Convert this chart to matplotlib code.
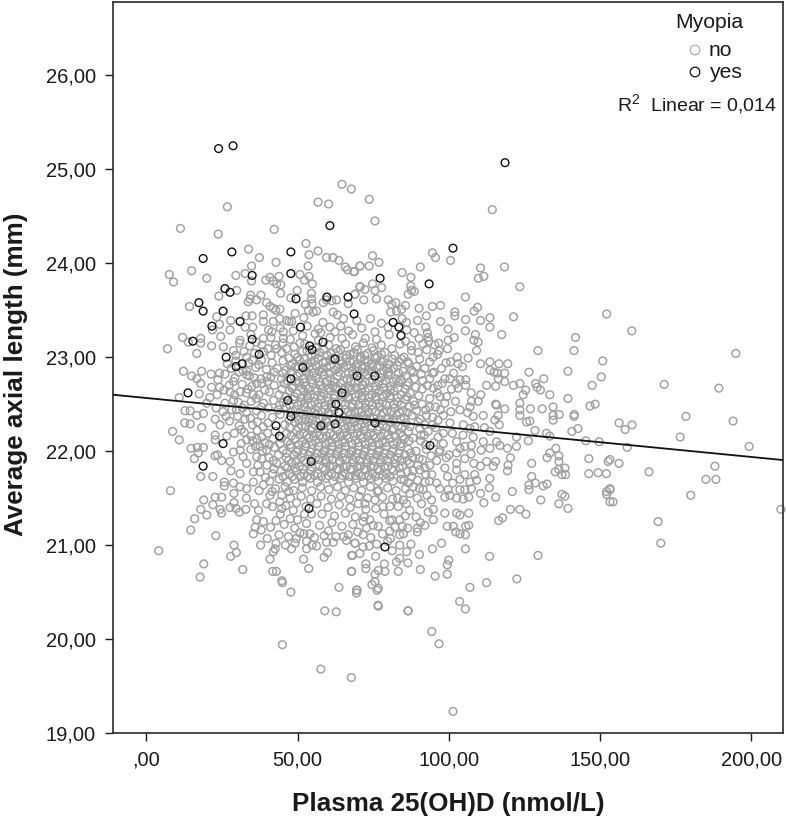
import matplotlib
matplotlib.use("Agg")
import matplotlib.pyplot as plt

plt.rcParams['font.family'] = ['Liberation Sans', 'DejaVu Sans']
plt.rcParams['mathtext.fontset'] = 'custom'
plt.rcParams['mathtext.rm'] = 'Liberation Sans'

x_ticks = [0, 50, 100, 150, 200]
x_tick_labels = [",00", "50,00", "100,00", "150,00", "200,00"]
y_ticks = [19, 20, 21, 22, 23, 24, 25, 26]
y_tick_labels = ["19,00", "20,00", "21,00", "22,00", "23,00", "24,00", "25,00", "26,00"]
line_x = [-11, 210.5]
line_y = [22.60, 21.905]

yes_points = [(23.9,25.22),(28.7,25.25),(118.6,25.07),(60.7,24.40),(101.4,24.16),(18.8,24.05),(28.3,24.12),(47.8,24.12),(47.8,23.89),(35,23.87),(93.5,23.78),(77.3,23.84),(26,23.73),(27.7,23.69),(17.4,23.58),(18.8,23.49),(25.4,23.49),(49.5,23.62),(59.7,23.64),(66.7,23.64),(68.7,23.46),(31,23.38),(21.7,23.33),(51,23.32),(81.6,23.37),(83.5,23.32),(84.2,23.23),(15.4,23.17),(35,23.19),(54,23.12),(54.8,23.08),(58.4,23.16),(26.4,23.00),(37.3,23.03),(62.4,22.98),(29.7,22.90),(31.7,22.93),(51.8,22.89),(47.8,22.77),(69.7,22.80),(75.6,22.80),(13.8,22.62),(64.7,22.62),(46.8,22.54),(62.7,22.50),(63.7,22.41),(47.8,22.37),(75.6,22.30),(57.7,22.27),(62.4,22.29),(42.9,22.27),(44,22.16),(93.8,22.06),(25.4,22.08),(54.5,21.89),(18.8,21.84),(53.8,21.39),(78.9,20.98)]

no_upper_left = [(64.7,24.84),(67.8,24.79),(56.8,24.65),(60.3,24.63),(26.8,24.60),(11.3,24.37),(23.8,24.31),(42.3,24.36),(33.8,24.15),(37.4,24.06),(42.9,24.01),(52.8,24.21),(53.8,24.09),(56.8,24.13),(59.6,24.06),(61.7,24.06),(63.7,24.03),(65.8,23.96),(66.5,23.93),(68.8,23.91),(70.7,23.97),(53.5,23.97),(7.6,23.88),(9,23.80),(15,23.92),(20,23.84),(29.6,23.87),(32.7,23.89),(34.8,23.97),(34.8,23.81),(39.5,23.82),(40.9,23.85),(41.9,23.81),(43.1,23.78),(43.9,23.86),(44.5,23.77),(44.4,23.68),(50.8,23.88),(53.8,23.86),(52.3,23.82),(54.9,23.78),(49.9,23.71),(54.6,23.68),(54.6,23.62),(29.9,23.71),(24,23.65),(34.5,23.66),(37.9,23.66),(36.5,23.61),(33.7,23.59),(34.3,23.62),(14.3,23.54),(47.8,23.63),(39.8,23.58),(40.9,23.54),(42,23.52),(44.2,23.51),(42.8,23.5),(52.6,23.56),(54.8,23.57),(58.5,23.58),(59.6,23.61),(62.9,23.61),(61.3,23.6),(66.8,23.57),(69,23.67),(70.7,23.75),(55.2,23.48),(53.6,23.5),(56.3,23.49),(61.8,23.48),(63.2,23.45),(65.2,23.41),(23.3,23.43),(24.2,23.35),(27.9,23.39),(27.7,23.29),(35,23.44),(33,23.44),(38.7,23.45),(38.7,23.38),(32.7,23.32),(35.2,23.32),(42,23.38),(40.4,23.29),(41.5,23.27),(46.4,23.39),(48.1,23.38),(49.2,23.465),(45.3,23.27),(56.9,23.3),(55.8,23.25),(60.7,23.32),(62.4,23.27),(12,23.21),(13.9,23.16),(18,23.2),(18,23.15),(7,23.09),(16.7,23.04),(21.6,23.12),(21.9,23.29),(24.6,23.22),(25.5,23.11),(28.8,23.07),(31,23.18),(30.8,23.15),(32.3,23.06),(38.7,23.2),(38.2,23.13),(38.7,23.06),(43.1,23.09),(45.3,23.2),(45.1,23.15),(46.4,23.09),(50.8,23.15)]

no_lower_left = [(12.3,22.85),(15,22.8),(16.7,22.77),(18.3,22.85),(18,22.72),(21.4,22.82),(24.2,22.83),(26,22.82),(10.9,22.57),(17.5,22.61),(21,22.57),(20,22.51),(24.2,22.68),(25.7,22.65),(28.8,22.74),(27.7,22.63),(31,22.63),(33.2,22.81),(36.5,22.72),(35.4,22.6),(39.8,22.79),(39.2,22.65),(26,22.51),(12.8,22.43),(14.5,22.43),(16.7,22.38),(18.9,22.4),(25.3,22.42),(12.7,22.3),(14.5,22.29),(18.3,22.25),(22.8,22.34),(27.5,22.32),(24.4,22.28),(32.6,22.34),(8.7,22.21),(10.9,22.12),(29.1,22.19),(26.6,22.16),(22.8,22.17),(22.8,22.12),(14.8,22.03),(16.9,22.04),(18.9,22.04),(17.2,21.98),(15.9,21.92),(23.5,21.96),(22.7,21.95),(24.9,21.9),(28.8,21.99),(27.7,21.89),(31,22.01),(33.2,22.12),(36.5,22.13),(37.6,22.05),(32,21.94),(33.2,21.87),(36.5,21.94),(39.8,22.01),(42,21.9),(28,21.79),(31,21.76),(18,21.73),(22,21.73),(35.4,21.78),(37.6,21.78),(25.8,21.67),(25.8,21.63),(28.8,21.66),(31,21.62),(33.2,21.6),(35.4,21.67),(38.7,21.64),(29,21.55),(8,21.58),(19,21.48),(22.8,21.51),(24.9,21.51),(22,21.43),(18,21.38),(20,21.32),(24.4,21.38),(24.9,21.34),(27.7,21.4),(29,21.45),(30.8,21.35),(32.9,21.38),(29.7,21.39),(16,21.28),(14.7,21.16),(23,21.1),(36.5,21.27),(38.7,21.25),(42.9,21.26),(39.8,21.44),(40.9,21.53),(44.8,21.53),(44.8,21.39),(48.6,21.37),(50,21.27),(53,21.23),(36,21.19),(38,21.16),(35.4,21.12),(40,21.07),(43.9,21.11),(37.8,21.0),(47,21.09),(50.8,21.13),(52.1,21.12),(54.1,21.12),(42.9,21.02),(42.6,20.96),(46,21.0),(49.2,21.02),(53,21.04),(48,20.96),(53,20.96),(56.3,20.99),(58.8,21.1),(59.6,21.03),(62.7,21.09),(61.8,21.03),(66.8,21.11),(66.2,21.05),(69,21.02),(4.1,20.94),(29,21.0),(29.8,20.92),(27.9,20.88),(42,20.93),(40.9,20.85),(52,20.85),(59.9,20.92),(58.8,20.87),(67.9,20.89),(19,20.8),(31.9,20.74),(41.8,20.72),(53.7,20.75),(67.8,20.72),(17.8,20.66),(44.8,20.62),(45,20.6),(47.8,20.5),(43,20.72),(59,20.3),(62.8,20.29),(45,19.94),(57.7,19.68),(67.8,19.59),(69.7,20.52),(63.7,20.55),(76.6,20.36),(76.3,20.52),(74.6,20.58),(86.5,20.3),(94.4,20.08),(96.8,19.95),(101.4,19.23)]

no_lower_right = [(148.4,22.5),(141.4,22.37),(140.7,22.21),(145.3,22.11),(146.3,21.92),(152.7,21.89),(146.3,21.76),(149.4,21.77),(152.1,21.76),(153.3,21.59),(152.2,21.54),(153.3,21.46),(139.4,21.39),(136.4,21.44),(138.4,21.52),(137.4,21.54),(130.4,21.48),(132.5,21.65),(131.2,21.63),(128.6,21.66),(127.4,21.73),(126.5,21.64),(126.5,21.59),(127.4,21.87),(132.5,21.93),(133.4,21.98),(135.4,22.03),(136.4,21.95),(136.4,21.89),(135.2,21.78),(136.4,21.805),(138.4,21.82),(137.4,21.75),(138.6,21.75),(128.5,22.22),(132.3,22.19),(133.4,22.16),(126.3,22.11),(125.7,22.31),(126.8,22.32),(123.5,22.38),(123.5,22.51),(123.5,22.44),(127,22.45),(130.9,22.45),(134.5,22.47),(134.5,22.38),(134.5,22.33),(136.5,22.39),(122.4,22.15),(122.4,22.05),(120.4,21.93),(119.4,22.03),(119.6,21.85),(119.4,21.79),(115.5,21.89),(114.7,21.84),(112.5,21.89),(110.5,21.84),(108.3,21.87),(113.6,21.71),(113.4,21.61),(110.5,21.55),(111.6,21.45),(115.5,21.51),(121,21.57),(120.4,21.38),(123.5,21.38),(125.5,21.33),(117.8,21.29),(116.5,21.26),(106.6,21.34),(106.6,21.51),(104.8,21.49),(102.6,21.5),(103.7,21.59),(105.3,21.59),(107.5,21.6),(103.7,21.7),(105.3,21.75),(108.6,21.75),(109.2,21.69),(107,21.67),(102.6,21.34),(103.7,21.32),(106.6,21.21),(105.6,21.2),(105.5,21.11),(99.5,21.2),(101.5,21.2),(102.3,21.14),(103.7,21.12),(97.6,21.02),(94.6,20.96),(105.5,20.96),(113.5,20.88),(129.5,20.89),(122.5,20.64),(112.5,20.6),(107,20.55),(100,20.84),(99.5,20.79),(99.5,20.69),(95.5,20.67),(90.6,20.74),(86.5,20.81),(83.3,20.72),(82.7,20.82),(83.8,20.86),(87.5,21.01),(78.9,20.72),(78.7,20.8),(76.7,20.73),(75.6,20.69),(75.6,20.61),(76.7,20.54),(69.5,20.52),(69.5,20.49),(76.7,20.35),(86.6,20.3),(103.6,20.4),(105.5,20.32),(72.6,20.8),(72.6,20.75),(67.9,20.72),(68.2,20.89),(70.6,20.91),(71.7,21.11),(69,21.02),(71.7,20.98),(73.7,20.99),(75.8,20.88),(79.8,21.04),(83.8,21.0),(80.5,21.15),(80.5,21.26),(83.8,21.11),(85,21.12),(84.7,21.2),(83.8,21.27),(89.6,21.18),(89.6,21.14),(90.6,21.24),(94.9,21.27),(93.2,21.35),(94.9,21.38),(98.7,21.34),(98.7,21.51),(100.4,21.53),(94.3,21.48),(89.6,21.5),(91,21.44),(87.1,21.37),(86,21.44),(85,21.48),(83.3,21.41),(80.5,21.41),(78.3,21.41),(75.6,21.48),(72.6,21.38),(71.7,21.25),(73.9,21.27),(75,21.21),(76.7,21.2),(98.2,22.08),(102.6,22.1),(103.7,22.03),(105.3,22.05),(107.5,22.06),(111.4,22.1),(113.6,22.03),(115.8,22.1),(116.9,22.06),(102.6,21.98),(105.3,21.92),(102.6,21.87),(102.6,21.8),(98.7,21.82),(96,21.9),(93.7,21.85),(90.4,21.8),(87.7,21.73),(88.2,21.62),(91.5,21.59),(96,21.66),(97,21.6),(99.8,21.59),(98.2,22.19),(96.5,22.15),(103.7,22.44),(107,22.47),(108.1,22.37),(111.4,22.38),(115.8,22.49),(118.5,22.45),(116.3,22.38),(115.2,22.33),(116.7,22.28),(113.6,22.21),(108.6,22.26),(107,22.24),(104.8,22.28),(100.4,22.3),(98.2,22.38),(96.5,22.33),(92.6,22.38),(93.2,22.21),(90.4,22.24),(88.2,22.14),(89.9,22.31),(87.1,22.47),(93.7,22.47),(98.7,22.51)]

no_upper_right = [(73.7,24.68),(75.6,24.45),(114.4,24.57),(74.8,24.08),(76.9,24.01),(73.7,23.97),(70.6,23.97),(68.6,23.91),(84.6,23.9),(90.6,23.96),(87.5,23.85),(94.6,24.11),(95.6,24.06),(100.6,24.03),(110.5,23.95),(118.4,23.96),(109.8,23.84),(111.6,23.86),(123.5,23.75),(105.5,23.64),(87.4,23.76),(87.7,23.71),(86.6,23.67),(88.6,23.7),(77.8,23.74),(70.6,23.75),(72.3,23.72),(74.8,23.78),(75.6,23.71),(71.9,23.61),(69,23.67),(76.1,23.62),(80,23.61),(82.5,23.58),(81.1,23.56),(85.7,23.55),(84.4,23.51),(82.7,23.49),(80.8,23.48),(90.2,23.52),(94.6,23.54),(97.3,23.55),(109.5,23.53),(108.4,23.49),(102,23.48),(102,23.44),(105.6,23.4),(110.5,23.39),(113.6,23.42),(113.6,23.32),(121.4,23.43),(152.2,23.46),(92.6,23.44),(89.7,23.39),(97.3,23.38),(92.4,23.32),(92.9,23.26),(99.8,23.3),(105.5,23.28),(108.8,23.24),(117.5,23.24),(86,23.37),(88.6,23.26),(101.8,23.21),(99.8,23.18),(96.7,23.15),(95.4,23.13),(108.3,23.18),(109.7,23.16),(109.2,23.07),(99.6,23.09),(91.5,23.14),(89.9,23.05),(87.7,23.07),(94.8,23.0),(93.7,22.95),(102.8,23.0),(106.4,22.99),(100.6,22.95),(103.1,22.93),(104.5,22.9),(97.6,22.88),(110.5,22.93),(113.6,22.95),(116.6,22.93),(119.5,22.93),(113.6,22.86),(115,22.84),(116.1,22.83),(118.5,22.83),(116.4,22.77),(118.5,22.74),(115.5,22.69),(112.5,22.7),(101.6,22.83),(98.7,22.77),(100.4,22.77),(103.7,22.76),(105.6,22.76),(105.6,22.7),(103.1,22.67),(93.7,22.77),(92.9,22.7),(94.9,22.67),(99.3,22.58),(102.2,22.53),(97.1,22.58),(93.7,22.56),(126.5,22.84),(129.5,23.07),(141.9,23.21),(141.4,23.07),(150.9,22.96),(139.4,22.85),(150.4,22.79),(131.4,22.77),(147.4,22.7),(121.4,22.7),(123.5,22.72),(128.7,22.72),(129.2,22.68),(130.3,22.65),(125.4,22.65),(124.6,22.6),(133.4,22.6),(139.4,22.56),(107.5,22.53),(109.7,22.53),(115.5,22.5),(160.5,23.28),(194.9,23.04),(189.3,22.67),(171.2,22.71),(178.4,22.37),(194,22.32),(199.3,22.05),(176.5,22.15),(160.6,22.28),(156.3,22.3),(158.3,22.23),(159,22.04),(156.3,21.87),(166.2,21.78),(153.3,21.91),(185,21.7),(188,21.84),(188.3,21.7),(180,21.53),(209.8,21.38),(169.2,21.25),(170.1,21.02),(153.3,21.6),(154.3,21.46),(152.2,21.57),(149.7,22.1),(146.7,22.48),(141.5,22.39),(142.7,22.24)]

no_centre = [
(47.2,23.38),(52.1,23.42),(58.4,23.37),(64.3,23.33),(69.6,23.39),(74.1,23.41),(77.8,23.36),(84.6,23.41),
(44.3,23.31),(48.6,23.28),(53.2,23.33),(57.7,23.26),(66.9,23.28),(71.2,23.31),(75.6,23.27),(79.9,23.32),(86.1,23.29),
(41.2,23.21),(47.6,23.19),(51.7,23.23),(56.9,23.18),(60.8,23.21),(64.7,23.2),(68.2,23.24),(72.4,23.2),(76.1,23.19),(80.3,23.24),(85.7,23.17),(90.2,23.2),(93.4,23.17),
(34.2,23.12),(42.7,23.13),(48.9,23.11),(52.4,23.14),(56.1,23.1),(60.3,23.13),(62.8,23.09),(65.9,23.14),(69.2,23.11),(71.8,23.15),(74.6,23.1),(77.7,23.13),(81.2,23.09),(83.9,23.14),(87.6,23.12),(92.7,23.08),
(35.8,23.04),(41.3,23.02),(44.8,23.05),(49.1,23.03),(51.6,23.06),(54.7,23.01),(57.3,23.05),(59.8,23.02),(63.4,23.06),(66.1,23.02),(68.7,23.05),(70.9,23.0),(73.2,23.04),(76.3,23.01),(78.9,23.05),(82.1,23.02),(85.2,23.0),(90.4,22.98),(96.3,23.03),
(29.6,22.96),(33.8,22.94),(38.1,22.97),(41.6,22.94),(45.2,22.96),(48.3,22.93),(50.7,22.97),(53.3,22.93),(55.6,22.96),(58.4,22.94),(60.9,22.97),(64.7,22.93),(67.3,22.96),(69.9,22.93),(72.1,22.97),(74.7,22.93),(77.4,22.96),(80.2,22.93),(83.6,22.95),(86.8,22.93),(89.3,22.9),(92.1,22.88),
(28.1,22.88),(31.9,22.86),(36.2,22.89),(39.7,22.87),(43.3,22.88),(46.1,22.86),(49.2,22.89),(52.6,22.85),(54.9,22.88),(57.1,22.85),(59.7,22.89),(62.3,22.86),(65.2,22.89),(68.1,22.85),(71.3,22.88),(73.4,22.86),(76.2,22.89),(78.6,22.85),(81.7,22.88),(84.9,22.85),(87.7,22.86),(90.9,22.82),(95.2,22.84),
(29.3,22.78),(34.1,22.8),(37.9,22.77),(41.2,22.79),(44.7,22.77),(49.8,22.8),(51.9,22.77),(53.8,22.81),(56.2,22.78),(58.6,22.81),(60.8,22.77),(63.3,22.8),(66.4,22.77),(68.4,22.82),(70.8,22.78),(72.9,22.81),(77.6,22.78),(79.9,22.81),(82.7,22.77),(85.8,22.8),(88.6,22.77),(91.4,22.75),
(31.7,22.71),(34.9,22.69),(38.2,22.72),(42.3,22.7),(45.6,22.72),(48.4,22.69),(50.6,22.73),(52.8,22.69),(55.1,22.72),(57.4,22.7),(59.3,22.73),(61.7,22.69),(64.2,22.72),(66.8,22.69),(69.1,22.73),(71.6,22.7),(73.8,22.73),(75.9,22.69),(78.3,22.72),(80.8,22.69),(83.4,22.73),(86.2,22.7),(89.1,22.68),(96.4,22.7),
(29.2,22.6),(33.1,22.62),(37.2,22.6),(40.7,22.63),(43.9,22.6),(47.2,22.64),(49.9,22.61),(52.1,22.64),(54.3,22.6),(56.6,22.64),(58.8,22.61),(60.9,22.64),(63.1,22.66),(65.9,22.61),(67.8,22.65),(70.3,22.61),(72.4,22.64),(74.6,22.6),(77.1,22.64),(79.4,22.61),(81.9,22.64),(84.3,22.6),(87.2,22.62),(90.1,22.59),
(30.4,22.52),(34.7,22.53),(38.8,22.51),(42.1,22.54),(45.3,22.52),(48.7,22.55),(51.2,22.52),(53.4,22.56),(55.7,22.52),(57.9,22.55),(60.2,22.53),(62.1,22.56),(64.6,22.52),(66.9,22.56),(69.2,22.53),(71.3,22.56),(73.6,22.52),(75.8,22.55),(78.2,22.52),(80.7,22.56),(83.1,22.52),(85.6,22.55),(88.4,22.53),(91.2,22.5),(95.6,22.47),
(28.3,22.44),(31.8,22.46),(36.4,22.43),(40.3,22.46),(43.6,22.44),(46.2,22.47),(49.3,22.44),(52.4,22.47),(54.6,22.43),(56.9,22.47),(59.1,22.44),(61.3,22.47),(65.8,22.44),(67.9,22.47),(70.2,22.43),(72.4,22.46),(74.7,22.44),(77.2,22.47),(79.6,22.43),(82.2,22.46),(84.8,22.43),(89.3,22.43),
(30.2,22.37),(34.4,22.35),(38.1,22.38),(41.7,22.36),(44.3,22.39),(49.6,22.36),(51.8,22.39),(53.9,22.35),(56.1,22.39),(58.3,22.36),(60.4,22.39),(65.2,22.36),(67.3,22.39),(69.4,22.35),(71.7,22.38),(73.9,22.35),(77.8,22.38),(80.1,22.35),(82.8,22.38),(85.3,22.35),(87.9,22.38),(94.7,22.36),
(30.7,22.27),(35.1,22.28),(38.6,22.26),(40.2,22.3),(45.8,22.28),(49.1,22.31),(51.4,22.27),(53.6,22.31),(55.8,22.28),(59.6,22.31),(60.9,22.27),(64.9,22.31),(66.7,22.27),(68.8,22.31),(71.1,22.28),(73.2,22.31),(78.3,22.28),(80.6,22.31),(83.3,22.27),(85.8,22.3),(92.1,22.28),(95.7,22.25),
(32.4,22.2),(36.7,22.22),(40.1,22.19),(42.6,22.21),(46.4,22.19),(49.7,22.22),(52.1,22.19),(54.3,22.22),(56.4,22.19),(58.7,22.22),(60.8,22.19),(63.2,22.22),(65.4,22.19),(67.6,22.23),(69.8,22.19),(71.9,22.22),(74.1,22.19),(76.4,22.22),(78.8,22.19),(81.2,22.22),(83.9,22.19),(86.7,22.21),(91.9,22.17),
(31.4,22.08),(35.2,22.11),(39.2,22.09),(41.9,22.13),(46.7,22.1),(49.3,22.13),(51.6,22.1),(53.7,22.14),(55.9,22.11),(58.2,22.14),(60.3,22.1),(62.6,22.14),(64.8,22.1),(66.9,22.14),(69.1,22.11),(71.4,22.14),(73.6,22.1),(75.9,22.14),(78.1,22.1),(80.4,22.13),(82.9,22.1),(85.3,22.13),(90.7,22.11),(95.1,22.09),
(38.4,22.0),(42.4,22.04),(45.2,22.01),(47.8,22.04),(50.2,22.01),(52.6,22.05),(54.8,22.02),(57.1,22.05),(59.2,22.01),(61.5,22.05),(63.7,22.02),(65.9,22.05),(68.2,22.01),(70.4,22.05),(72.6,22.02),(74.8,22.05),(77.1,22.01),(79.4,22.05),(81.7,22.02),(84.1,22.05),(86.6,22.02),(89.2,22.0),(92.6,22.02),(96.8,21.99),
(40.6,21.93),(43.7,21.96),(46.3,21.93),(48.9,21.96),(51.3,21.93),(53.6,21.96),(55.9,21.93),(58.1,21.97),(60.4,21.93),(62.7,21.97),(64.9,21.93),(67.1,21.97),(69.3,21.93),(71.6,21.96),(73.8,21.93),(76.1,21.96),(78.3,21.93),(80.6,21.96),(83.1,21.93),(85.4,21.96),(88.1,21.93),(91.3,21.91),(99.2,21.93),
(39.9,21.85),(43.1,21.87),(45.8,21.84),(48.2,21.87),(50.6,21.84),(52.9,21.88),(57.2,21.85),(59.6,21.88),(61.8,21.84),(64.1,21.88),(66.3,21.84),(68.6,21.88),(70.9,21.84),(73.1,21.88),(75.3,21.84),(77.6,21.88),(79.9,21.84),(82.4,21.87),(84.7,21.84),(87.1,21.87),(89.8,21.85),
(41.7,21.76),(44.6,21.79),(47.3,21.76),(49.7,21.79),(52.1,21.76),(54.4,21.79),(56.7,21.76),(59.1,21.8),(61.3,21.76),(63.6,21.8),(65.8,21.76),(68.1,21.8),(70.3,21.76),(72.6,21.8),(74.8,21.76),(77.1,21.79),(79.4,21.76),(81.7,21.79),(84.2,21.76),(86.3,21.78),(92.4,21.75),
(40.8,21.68),(43.9,21.7),(46.6,21.67),(49.1,21.7),(51.7,21.67),(54.2,21.71),(56.6,21.67),(59.4,21.71),(61.7,21.68),(64.3,21.71),(66.9,21.67),(69.4,21.71),(71.8,21.67),(74.3,21.71),(76.7,21.68),(79.2,21.71),(81.6,21.68),(84.3,21.7),(86.8,21.66),(93.6,21.68),
(42.7,21.6),(45.9,21.62),(48.7,21.58),(51.6,21.61),(54.7,21.58),(57.6,21.62),(60.4,21.59),(63.2,21.62),(65.8,21.58),(68.6,21.61),(71.2,21.58),(74.1,21.62),(76.8,21.58),(79.8,21.61),(82.6,21.58),(85.7,21.6),
(47.6,21.5),(51.2,21.52),(54.3,21.49),(57.8,21.52),(61.2,21.49),(64.3,21.52),(67.2,21.49),(70.3,21.52),(73.2,21.5),(78.1,21.51),(81.4,21.49),
(46.1,21.42),(52.8,21.41),(56.4,21.44),(60.1,21.4),(63.8,21.43),(67.4,21.4),(70.1,21.44),(75.9,21.39),(58.1,21.33),(62.2,21.31),(65.8,21.34),(69.1,21.3),(54.6,21.33),(47.6,21.28),(57.3,21.21),(61.4,21.24),(64.7,21.2),(68.3,21.22),(72.1,21.3)]

no_core = [
(53.1,23.07),(55.9,23.03),(58.7,23.08),(61.2,23.04),(64.2,23.08),(67.3,23.03),(69.8,23.08),(72.2,23.02),(75.1,23.07),(77.8,23.03),
(47.2,22.99),(50.1,23.0),(52.2,22.98),(54.6,22.95),(56.8,22.99),(59.3,22.95),(61.8,22.99),(63.9,22.96),(66.1,22.99),(68.6,22.95),(70.8,22.98),(73.3,22.95),(75.8,22.99),(78.4,22.95),(81.3,22.98),(84.4,22.98),
(47.7,22.91),(50.3,22.9),(53.9,22.9),(56.1,22.91),(58.2,22.88),(60.8,22.91),(63.4,22.89),(66.3,22.91),(69.4,22.9),(72.3,22.9),(74.7,22.9),(77.2,22.91),(79.8,22.88),(82.9,22.91),
(42.3,22.84),(45.1,22.83),(47.9,22.84),(50.8,22.83),(53.1,22.84),(55.4,22.83),(58.1,22.84),(60.6,22.83),(63.7,22.84),(66.9,22.83),(69.6,22.85),(72.1,22.84),(74.6,22.84),(77.3,22.83),(80.2,22.84),(83.3,22.83),
(46.6,22.75),(49.3,22.74),(52.2,22.73),(54.7,22.76),(57.3,22.74),(59.9,22.75),(62.1,22.74),(65.1,22.75),(67.6,22.74),(70.1,22.75),(72.3,22.74),(74.7,22.76),(76.8,22.74),(79.2,22.75),(81.6,22.74),(84.3,22.76),
(44.9,22.66),(48.2,22.67),(51.4,22.67),(53.6,22.66),(55.9,22.67),(58.1,22.66),(60.2,22.67),(62.6,22.68),(65.3,22.66),(67.1,22.67),(69.4,22.67),(71.2,22.66),(73.4,22.67),(75.7,22.65),(78.6,22.67),(80.7,22.65),(83.2,22.67),(85.6,22.66),
(46.1,22.58),(48.9,22.58),(51.3,22.57),(53.2,22.59),(55.4,22.57),(57.7,22.59),(59.9,22.57),(62.2,22.6),(64.8,22.58),(66.8,22.58),(69.2,22.58),(71.4,22.59),(73.5,22.57),(75.9,22.58),(78.2,22.58),(80.6,22.59),(83.1,22.57),
(44.1,22.49),(47.4,22.49),(50.1,22.49),(52.3,22.51),(54.6,22.49),(56.8,22.51),(59.1,22.49),(61.2,22.51),(65.7,22.49),(68.1,22.5),(70.3,22.49),(72.4,22.51),(74.7,22.49),(76.9,22.51),(79.3,22.49),(81.9,22.5),(84.3,22.49),
(47.7,22.42),(50.8,22.41),(53.2,22.42),(55.4,22.41),(57.9,22.42),(60.2,22.41),(62.1,22.44),(66.7,22.42),(68.9,22.41),(71.2,22.42),(73.3,22.41),(75.9,22.42),(78.4,22.41),(81.1,22.42),(83.6,22.41),
(47.2,22.33),(50.4,22.33),(52.6,22.34),(54.9,22.33),(57.2,22.34),(59.3,22.33),(61.8,22.35),(63.9,22.34),(66.3,22.33),(68.3,22.34),(70.6,22.33),(72.8,22.34),(75.2,22.35),(77.1,22.33),(79.3,22.34),(81.7,22.33),(84.1,22.34),
(47.4,22.25),(50.3,22.25),(52.7,22.26),(54.8,22.25),(57.1,22.24),(58.7,22.27),(62.6,22.25),(65.8,22.24),(67.7,22.26),(70.1,22.25),(72.2,22.26),(74.6,22.25),(76.9,22.26),(79.4,22.25),(81.8,22.24),(84.4,22.25),
(44.8,22.14),(47.9,22.16),(50.7,22.17),(53.1,22.17),(55.3,22.16),(57.3,22.17),(59.6,22.16),(61.9,22.17),(64.2,22.16),(66.4,22.17),(68.7,22.16),(70.8,22.17),(73.1,22.16),(75.1,22.17),(77.5,22.16),(79.9,22.17),(82.3,22.16),(84.8,22.16),
(44.2,22.08),(47.6,22.07),(50.4,22.07),(52.7,22.08),(54.9,22.07),(57.1,22.09),(59.3,22.07),(61.4,22.09),(63.6,22.07),(65.7,22.09),(68.1,22.07),(70.2,22.09),(72.4,22.07),(74.7,22.09),(76.9,22.07),(79.1,22.09),(81.6,22.07),(84.2,22.08),
(46.4,21.98),(49.6,21.99),(51.9,21.98),(54.2,21.99),(56.4,21.98),(58.7,22.0),(60.9,21.98),(63.2,22.0),(65.4,21.98),(67.6,22.0),(69.8,21.98),(72.1,22.0),(74.3,21.98),(76.5,22.0),(78.8,21.98),(81.2,22.0),(83.6,21.98),
(47.1,21.9),(49.7,21.9),(52.2,21.9),(54.8,21.92),(57.1,21.91),(59.2,21.91),(61.6,21.91),(63.8,21.9),(66.1,21.91),(68.2,21.91),(70.6,21.9),(72.9,21.91),(75.1,21.9),(77.3,21.91),(79.7,21.9),(82.1,21.91),(84.4,21.9),
(46.6,21.82),(49.2,21.82),(51.7,21.81),(54.7,21.83),(58.3,21.82),(60.7,21.83),(62.9,21.81),(65.2,21.83),(67.4,21.81),(69.7,21.83),(72,21.81),(74.2,21.83),(76.4,21.81),(78.7,21.83),(81.1,21.81),(83.6,21.82),
(45.2,21.73),(48.3,21.73),(50.9,21.73),(53.3,21.73),(55.6,21.74),(57.9,21.73),(60.2,21.74),(62.4,21.73),(64.9,21.74),(67.2,21.73),(69.2,21.74),(71.2,21.73),(73.4,21.74),(75.8,21.73),(78.2,21.74),(80.6,21.73),
(35.1,22.97),(37.2,22.92),(33.2,22.85),(35.7,22.78),(40.1,22.74),(33.6,22.66),(36.3,22.56),(32.4,22.49),(38.1,22.47),(33.2,22.41),(36.7,22.31),(31.4,22.23),(34.7,22.16),(38.2,22.15),(36.1,22.05),(40.7,22.07),(34.6,22.02),(38.2,21.92),(36.9,21.85),(42.2,21.81),(39.4,21.72),(37.3,21.58),(41.6,21.57),(44.2,21.46),(49.7,21.45),(47.1,21.57)]

no_fringe = [
(86.4,22.95),(88.3,22.84),(86.7,22.73),(91.2,22.66),(86.1,22.58),(88.7,22.49),(92.4,22.44),(86.4,22.41),(90.6,22.34),(87.2,22.26),(90.8,22.17),(86.9,22.11),(92.3,22.07),(87.4,21.98),(94.2,21.95),(90.2,21.92),(86.3,21.9),(92.1,21.82),(88.2,21.79),(85.2,21.69),(89.7,21.69),(90.3,21.6),(87.1,21.55),(92.8,21.53),(83.1,21.5),(76.4,21.57),(72.3,21.44),(78.6,21.33),(81.2,21.27),(85.6,21.31),(89.2,21.3),(92.1,21.21),(86.4,21.18),(82.2,21.19),(78.1,21.12),(74.2,21.08),(80.7,21.07),(76.2,21.01),(81.3,20.94),(86.1,20.93),(90.3,20.9),
(44.3,21.33),(41.7,21.41),(35.8,21.44),(33.1,21.5),(37.1,21.37),(41.1,21.19),(45.6,21.22),(49.1,21.18),(52.3,21.33),(55.6,21.08),(60.2,21.15),(65.2,21.09),(69.9,21.14),(72.8,21.18),(49.6,21.07),(54.8,21.0),
(26.4,22.37),(29.8,22.44),(23.1,22.46),(28.9,22.54),(23.4,22.6),(21.6,22.68),(27.4,22.7),(23.7,22.76),(30.6,22.84),(26.8,22.93),(33.2,23.0),(29.6,23.02),(40.2,23.09),(36.4,23.16),(34.6,23.24),(44.1,23.41),
(97.2,22.44),(100.7,22.42),(96.2,22.62),(100.9,22.66),(97.8,22.72),(94.6,22.83),(99.1,22.94),(96.8,23.07),(93.2,23.21),(102.4,22.72),(107.4,22.62),(110.6,22.6),(106.2,22.41),(101.2,22.19),(104.7,22.17),(108.1,22.15),(111.8,22.25),(94.6,22.28),(97.1,22.01),(100.1,21.96),(107.4,21.97),(110.7,22.01),(99.6,21.73),(94.4,21.75),(101.3,21.66),(92.2,21.67)]

no_points = no_upper_left + no_lower_left + no_lower_right + no_upper_right + no_centre + no_core + no_fringe
no_x = [p[0] for p in no_points]
no_y = [p[1] for p in no_points]
yes_x = [p[0] for p in yes_points]
yes_y = [p[1] for p in yes_points]

GREY = "#a0a0a0"
INK = "#1a1a1a"
W, H = 786, 816

fig = plt.figure(figsize=(W / 100, H / 100), dpi=100)
ax = fig.add_axes([113 / W, (H - 733) / H, 670 / W, 731 / H])
ax.scatter(no_x, no_y, s=31, facecolors="none", edgecolors=GREY, linewidths=1.05, zorder=2, clip_on=False)
ax.scatter(yes_x, yes_y, s=31, facecolors="none", edgecolors="#111111", linewidths=1.0, zorder=3)
ax.plot(line_x, line_y, color="#111111", lw=1.3, zorder=4)
ax.set_xlim(-11, 210.5)
ax.set_ylim(19, 26.78)
ax.set_xticks(x_ticks, x_tick_labels)
ax.set_yticks(y_ticks, y_tick_labels)
ax.tick_params(axis="both", length=6, width=1, color=INK, labelsize=14.5, labelcolor=INK, pad=6.5)
for s in ax.spines.values():
    s.set_linewidth(1.2)
    s.set_color("#2a2a2a")
ax.set_xlabel("Plasma 25(OH)D (nmol/L)", fontsize=18.7, fontweight="bold", color=INK, labelpad=16.5)
ax.set_ylabel("Average axial length (mm)", fontsize=18.7, fontweight="bold", color=INK, labelpad=12.5, y=0.491)

def ax_x(px):
    return (px - 113) / 670
def ax_y(py):
    return (733 - py) / 731

ax.text(ax_x(709.5), ax_y(23), "Myopia", ha="center", va="center", fontsize=15.2, color=INK, transform=ax.transAxes)
ax.scatter([ax_x(695)], [ax_y(50)], s=48, facecolors="none", edgecolors="#a8a8a8", linewidths=0.8, transform=ax.transAxes, zorder=5)
ax.scatter([ax_x(695)], [ax_y(72)], s=48, facecolors="none", edgecolors="#111111", linewidths=0.9, transform=ax.transAxes, zorder=5)
ax.text(ax_x(709), ax_y(50), "no", ha="left", va="center", fontsize=15.2, color=INK, transform=ax.transAxes)
ax.text(ax_x(710), ax_y(72), "yes", ha="left", va="center", fontsize=15.2, color=INK, transform=ax.transAxes)
ax.text(ax_x(617), ax_y(105), r"R$^{\mathrm{2}}$  Linear = 0,014", ha="left", va="center", fontsize=14, color=INK,
        transform=ax.transAxes)

fig.savefig("out.png", dpi=100)
